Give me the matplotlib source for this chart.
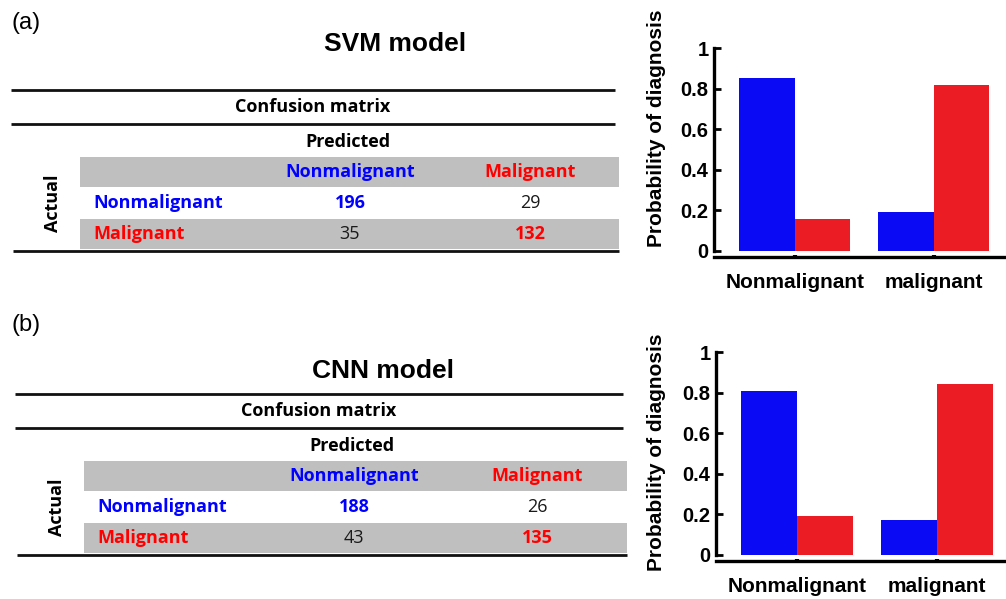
import numpy as np
import matplotlib.pyplot as plt
from matplotlib.patches import Rectangle

plt.rcParams['font.family'] = ['Liberation Sans', 'DejaVu Sans']

W, H = 1006, 599

# data
panel_tags = ['(a)', '(b)']
models = ['SVM model', 'CNN model']
classes = ['Nonmalignant', 'Malignant']
# rows = actual, cols = predicted
svm_cm = [[196, 29], [35, 132]]
cnn_cm = [[188, 26], [43, 135]]

bar_cats = ['Nonmalignant', 'malignant']
svm_p_nonmal = [0.85, 0.19]
svm_p_mal = [0.16, 0.82]
cnn_p_nonmal = [0.81, 0.17]
cnn_p_mal = [0.19, 0.84]

BLUE = '#0000FF'
RED = '#FF0000'
BAR_BLUE = '#0A0AF5'
BAR_RED = '#EC1C24'
GRAY = '#BFBFBF'
TFONT = ['Open Sans', 'DejaVu Sans']
TS = 13

fig = plt.figure(figsize=(W / 100, H / 100), dpi=100)

# overlay axes in pixel coords for the tables
tab = fig.add_axes([0, 0, 1, 1])
tab.set_xlim(0, W)
tab.set_ylim(H, 0)
tab.axis('off')


def draw_table(tag, title, cm, y0, tag_y, title_xy, xl, xr, gray_l, cols, lab_x, act_x):
    tab.text(12, tag_y, tag, fontsize=17, ha='left', va='center')
    tab.text(title_xy[0], title_xy[1], title, fontsize=19, fontweight='bold',
             ha='center', va='center')
    tab.plot([xl, xr], [y0, y0], color='#111111', lw=2, solid_capstyle='butt')
    tab.plot([xl, xr], [y0 + 34, y0 + 34], color='#111111', lw=2, solid_capstyle='butt')
    tab.text((xl + xr) / 2 + 0, y0 + 17, 'Confusion matrix', family=TFONT,
             fontsize=TS, fontweight='bold', ha='center', va='center')
    tab.text(cols[0] - 2, y0 + 52, 'Predicted', family=TFONT, fontsize=TS,
             fontweight='bold', ha='center', va='center')
    # gray bands
    tab.add_patch(Rectangle((gray_l, y0 + 67), xr + 4 - gray_l, 30, color=GRAY, lw=0))
    tab.add_patch(Rectangle((gray_l, y0 + 129), xr + 4 - gray_l, 30, color=GRAY, lw=0))
    tab.plot([xl + 2, xr + 4], [y0 + 161, y0 + 161], color='#111111', lw=2,
             solid_capstyle='butt')
    ccol = [BLUE, RED]
    for j, name in enumerate(classes):
        tab.text(cols[j], y0 + 82, name, family=TFONT, fontsize=TS,
                 fontweight='bold', color=ccol[j], ha='center', va='center')
    for i, name in enumerate(classes):
        yy = y0 + 113 + 31 * i
        tab.text(lab_x, yy, name, family=TFONT, fontsize=TS, fontweight='bold',
                 color=ccol[i], ha='left', va='center')
        for j in range(2):
            if i == j:
                tab.text(cols[j], yy, str(cm[i][j]), family=TFONT, fontsize=TS,
                         fontweight='bold', color=ccol[i], ha='center', va='center')
            else:
                tab.text(cols[j], yy, str(cm[i][j]), family=TFONT, fontsize=TS,
                         color='#1a1a1a', ha='center', va='center')
    tab.text(act_x, y0 + 113, 'Actual', family=TFONT, fontsize=TS,
             fontweight='bold', rotation=90, ha='center', va='center')


draw_table(panel_tags[0], models[0], svm_cm, 90, 23, (395, 44), 11, 615, 80,
           [350, 530], 93, 53)
draw_table(panel_tags[1], models[1], cnn_cm, 394, 325, (383, 371), 15, 623, 84,
           [354, 537], 97, 57)


def draw_bars(left, y_zero, y_one, xmax, p_nonmal, p_mal, label_y):
    ax = fig.add_axes([left / W, 1 - y_zero / H, (W - left) / W, (y_zero - y_one) / H])
    for s in ['top', 'right']:
        ax.spines[s].set_visible(False)
    ax.spines['bottom'].set_position(('outward', 4.5))
    ax.spines['left'].set_linewidth(2.4)
    ax.spines['bottom'].set_linewidth(2.4)
    x = np.arange(len(bar_cats))
    w = 0.4
    ax.bar(x - w / 2, p_nonmal, w, color=BAR_BLUE)
    ax.bar(x + w / 2, p_mal, w, color=BAR_RED)
    ax.set_xlim(-0.58, xmax)
    ax.set_ylim(0, 1)
    ax.set_xticks(x)
    ax.set_xticklabels(bar_cats, fontsize=15, fontweight='bold')
    ax.set_yticks([0, 0.2, 0.4, 0.6, 0.8, 1])
    ax.set_yticklabels(['0', '0.2', '0.4', '0.6', '0.8', '1'], fontsize=14.5,
                       fontweight='bold')
    ax.tick_params(axis='y', direction='in', length=5, width=2, pad=4)
    ax.tick_params(axis='x', direction='inout', length=3, width=3, pad=10)
    ax.patch.set_alpha(0)
    fig.text(657 / W, 1 - label_y / H, 'Probability of diagnosis', fontsize=15,
             fontweight='bold', rotation=90, ha='center', va='center')
    return ax


draw_bars(714, 251, 48, 1.52, svm_p_nonmal, svm_p_mal, 128)
draw_bars(716, 555, 352, 1.49, cnn_p_nonmal, cnn_p_mal, 452)

fig.savefig('out.png', dpi=100)
